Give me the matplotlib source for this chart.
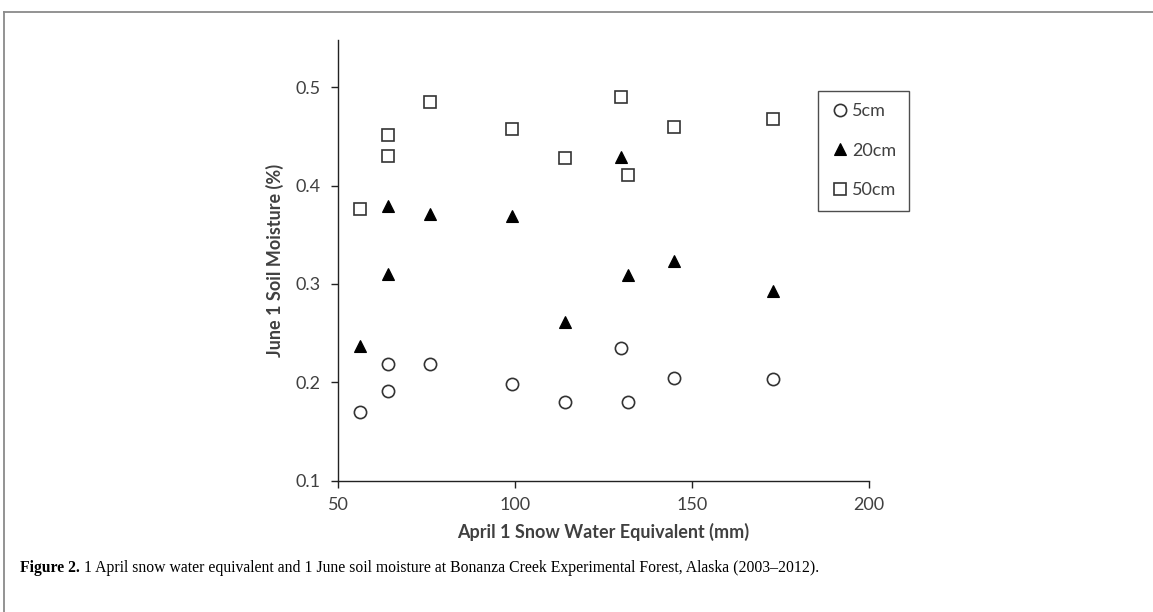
import matplotlib
matplotlib.use("Agg")
import matplotlib.pyplot as plt
from matplotlib.lines import Line2D

# April 1 snow water equivalent (mm), one value per year 2003-2012
swe = [56, 64, 64, 76, 99, 114, 130, 132, 145, 173]

# June 1 soil moisture at three depths
sm_5cm = [0.170, 0.219, 0.191, 0.219, 0.198, 0.180, 0.235, 0.180, 0.204, 0.203]
sm_20cm = [0.237, 0.379, 0.310, 0.371, 0.369, 0.261, 0.429, 0.309, 0.323, 0.293]
sm_50cm = [0.376, 0.430, 0.451, 0.485, 0.458, 0.428, 0.490, 0.411, 0.460, 0.468]

x_ticks = [50, 100, 150, 200]
y_ticks = [0.1, 0.2, 0.3, 0.4, 0.5]

TXT = "#404040"
W, H = 1153, 612


def main():
    plt.rcParams["font.family"] = ["Lato", "DejaVu Sans"]
    fig = plt.figure(figsize=(W / 100, H / 100), dpi=100)
    ax = fig.add_axes([338.3 / W, 1 - 480.5 / H, (869 - 338.3) / W, (480.5 - 39.5) / H])

    ax.plot(swe, sm_5cm, linestyle="none", marker="o", ms=8.8, mfc="white",
            mec="#333333", mew=1.2, label="5cm")
    ax.plot(swe, sm_20cm, linestyle="none", marker="^", ms=8.7, mfc="black",
            mec="black", mew=0.8, label="20cm")
    ax.plot(swe, sm_50cm, linestyle="none", marker="s", ms=8.2, mfc="white",
            mec="#333333", mew=1.2, label="50cm")

    ax.set_xlim(50, 200)
    ax.set_ylim(0.1, 0.5486)
    ax.set_xticks(x_ticks)
    ax.set_yticks(y_ticks)
    ax.set_yticklabels([f"{v:.1f}" for v in y_ticks])
    for s in ["top", "right"]:
        ax.spines[s].set_visible(False)
    for s in ["left", "bottom"]:
        ax.spines[s].set_color("#222222")
        ax.spines[s].set_linewidth(1.0)
    ax.tick_params(axis="both", direction="out", length=5, width=1.0,
                   color="#222222", labelsize=13, labelcolor=TXT)
    ax.tick_params(axis="x", pad=7)
    ax.tick_params(axis="y", pad=8)

    ax.set_xlabel("April 1 Snow Water Equivalent (mm)", fontsize=13,
                  fontweight="bold", color=TXT, labelpad=7)
    ax.set_ylabel("June 1 Soil Moisture (%)", fontsize=13,
                  fontweight="bold", color=TXT, labelpad=8)

    leg = ax.legend(loc="upper left", bbox_to_anchor=(818 / W, 1 - 90.7 / H),
                    bbox_transform=fig.transFigure, borderaxespad=0,
                    fancybox=False, frameon=True, fontsize=13,
                    labelspacing=1.29, handlelength=1.0, handletextpad=0.2,
                    borderpad=0.7, labelcolor=TXT)
    leg.get_frame().set_edgecolor("#222222")
    leg.get_frame().set_linewidth(1.0)

    # caption: bold lead followed by plain text
    cap_y = 1 - 568 / H
    lead = fig.text(20 / W, cap_y, "Figure 2.", fontsize=11.3, fontweight="bold",
                    family="Liberation Serif", va="center", ha="left")
    fig.canvas.draw()
    bb = lead.get_window_extent()
    fig.text((bb.x1 + 4) / W, cap_y,
             "1 April snow water equivalent and 1 June soil moisture at Bonanza "
             "Creek Experimental Forest, Alaska (2003\u20132012).",
             fontsize=11.3, family="Liberation Serif", va="center", ha="left")

    # page frame lines
    fig.add_artist(Line2D([4 / W, 1], [1 - 12 / H, 1 - 12 / H],
                          transform=fig.transFigure, color="#8a8a8a", lw=1.3))
    fig.add_artist(Line2D([4 / W, 4 / W], [0, 1 - 12 / H],
                          transform=fig.transFigure, color="#8a8a8a", lw=1.3))

    fig.savefig("out.png", dpi=100)


if __name__ == "__main__":
    main()
